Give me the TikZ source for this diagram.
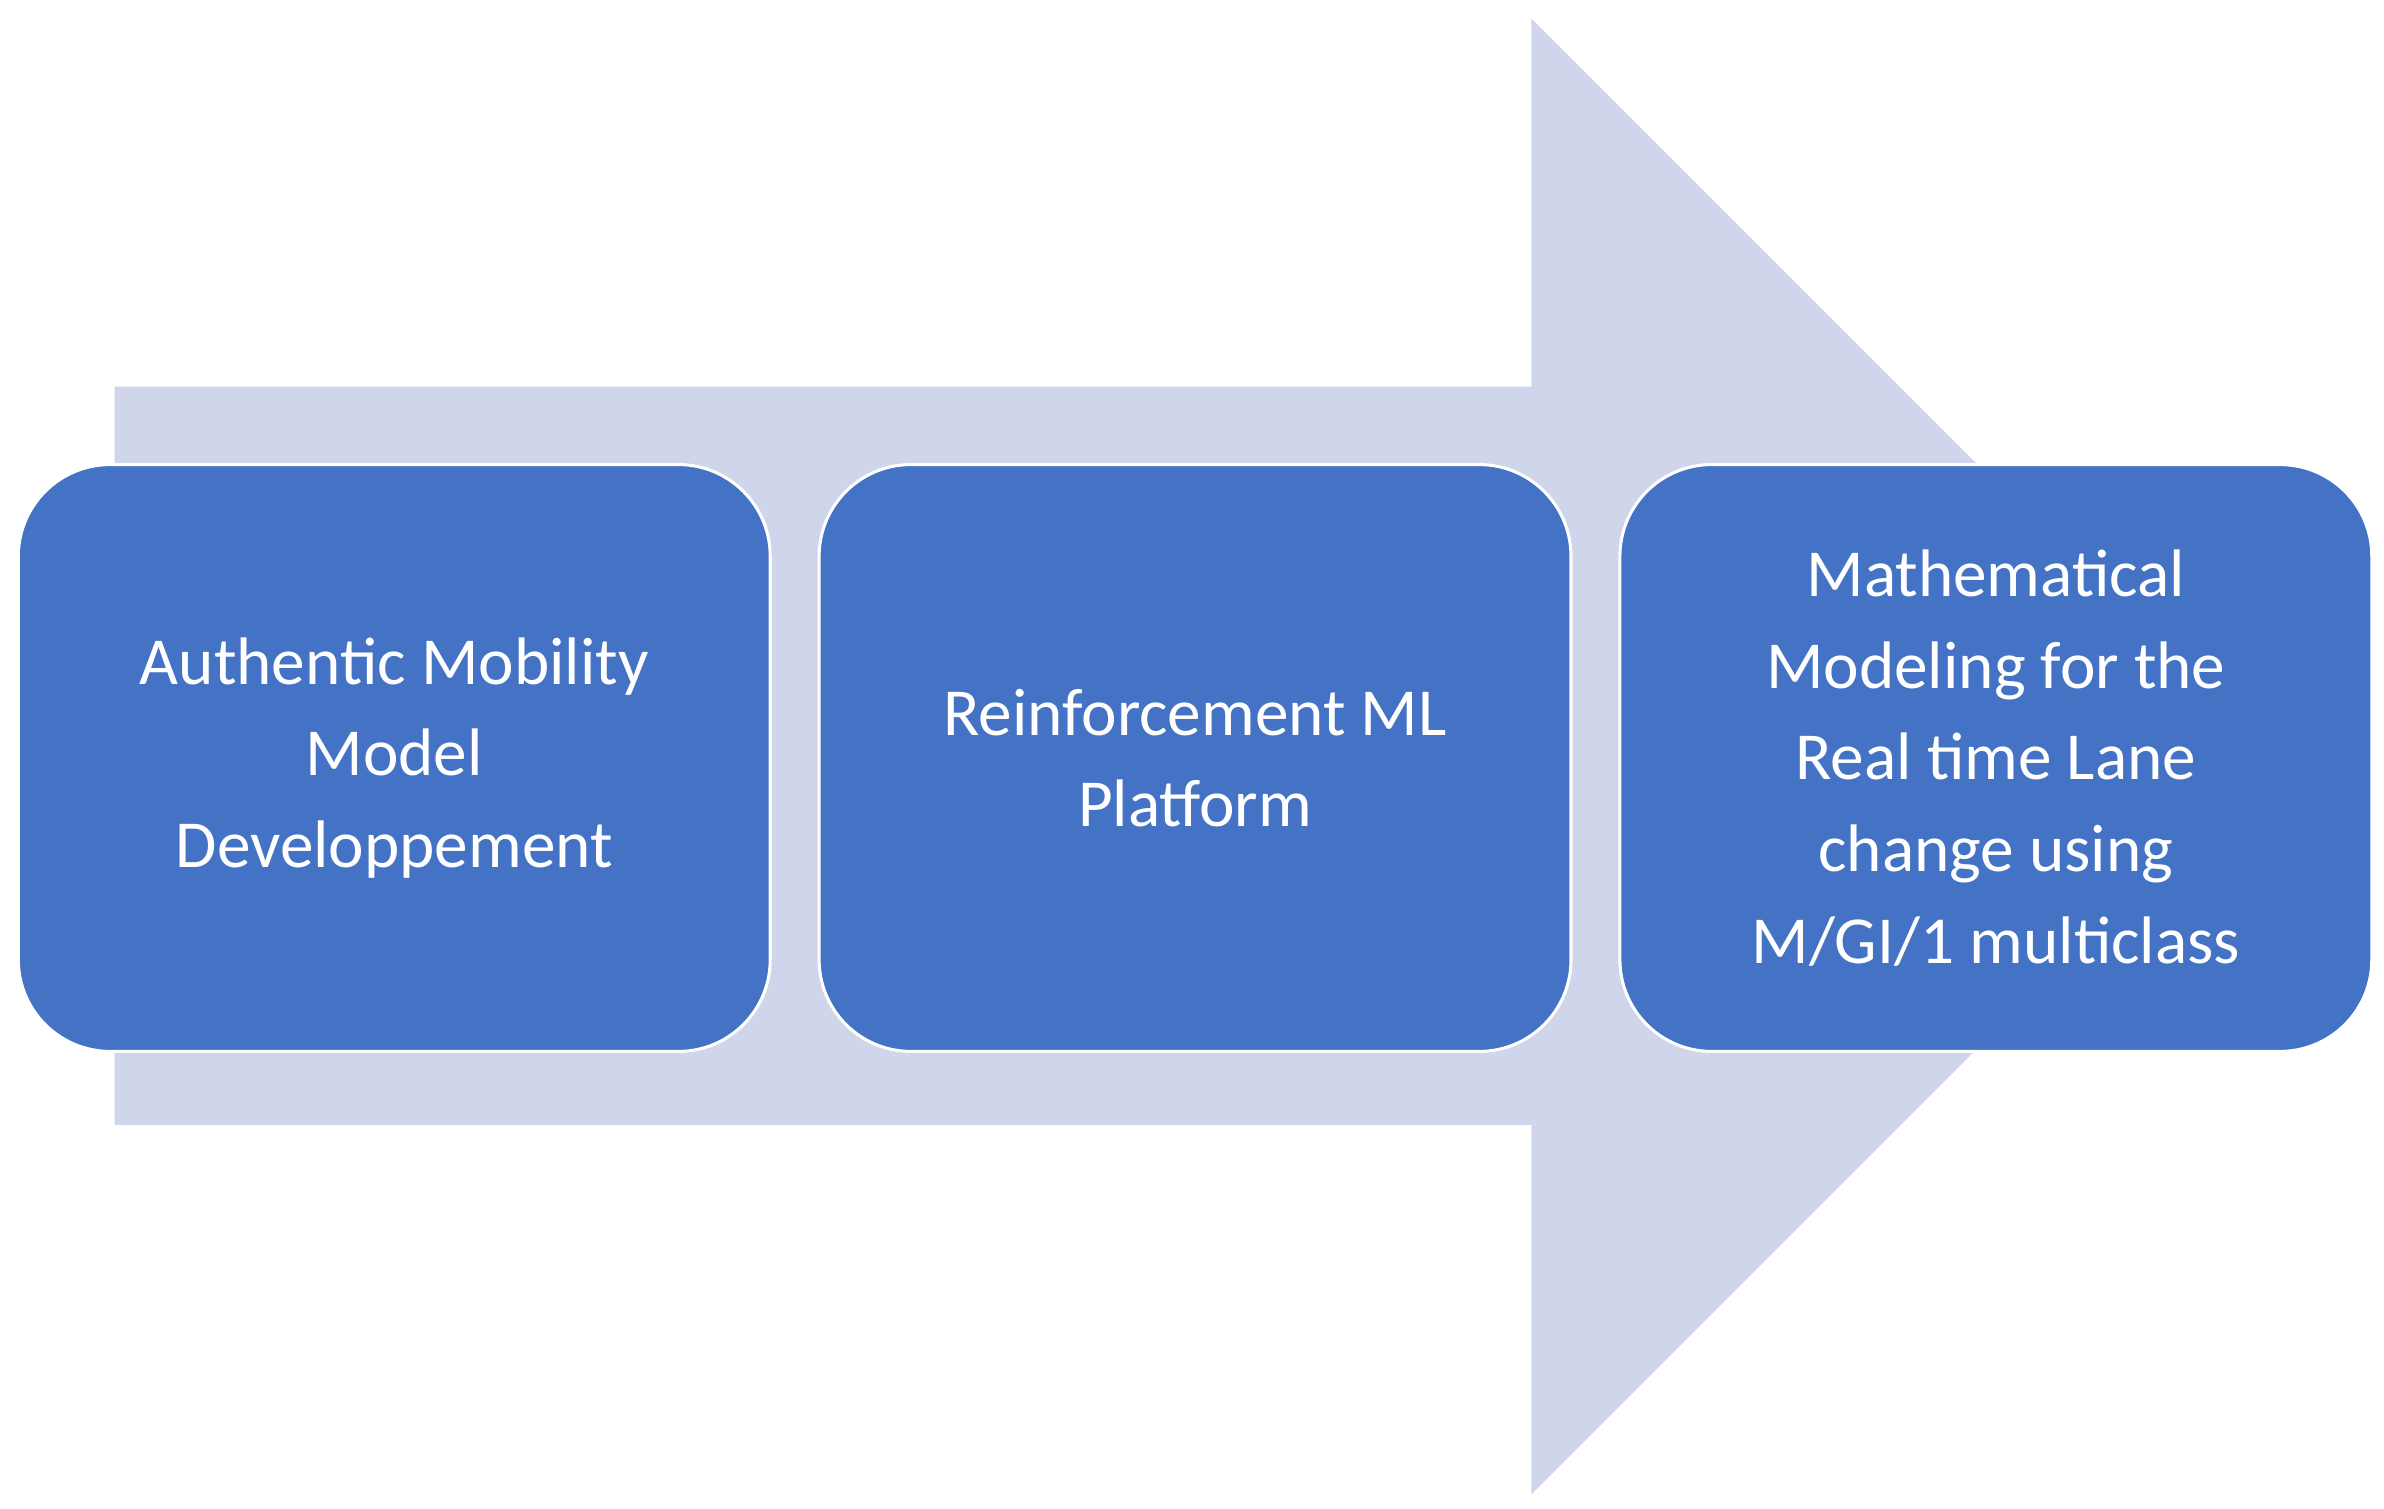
\documentclass[tikz,border=0pt]{standalone}
\usepackage{fontspec}
\setmainfont{Carlito}
\definecolor{arr}{HTML}{CFD5EA}
\definecolor{box}{HTML}{4472C4}
\begin{document}
\begin{tikzpicture}[x=1pt,y=-1pt,
  bx/.style={draw=white,line width=2pt,fill=box,rounded corners=60pt,minimum width=492pt,minimum height=384pt,text=white,align=center,font=\fontsize{44}{60}\selectfont,inner sep=0pt}]
\useasboundingbox (0,0) rectangle (1560,987);
\fill[arr] (75,253) -- (1002,253) -- (1002,12) -- (1485,495) -- (1002,978) -- (1002,736) -- (75,736) -- cycle;
\node[bx] (a) at (258,496) {Authentic Mobility\\Model\\Developpement};
\node[bx] (b) at (782,496) {Reinforcement ML\\Platform};
\node[bx] (c) at (1306,496) {Mathematical\\Modeling for the\\Real time Lane\\change using\\M/GI/1 multiclass};
\end{tikzpicture}
\end{document}
